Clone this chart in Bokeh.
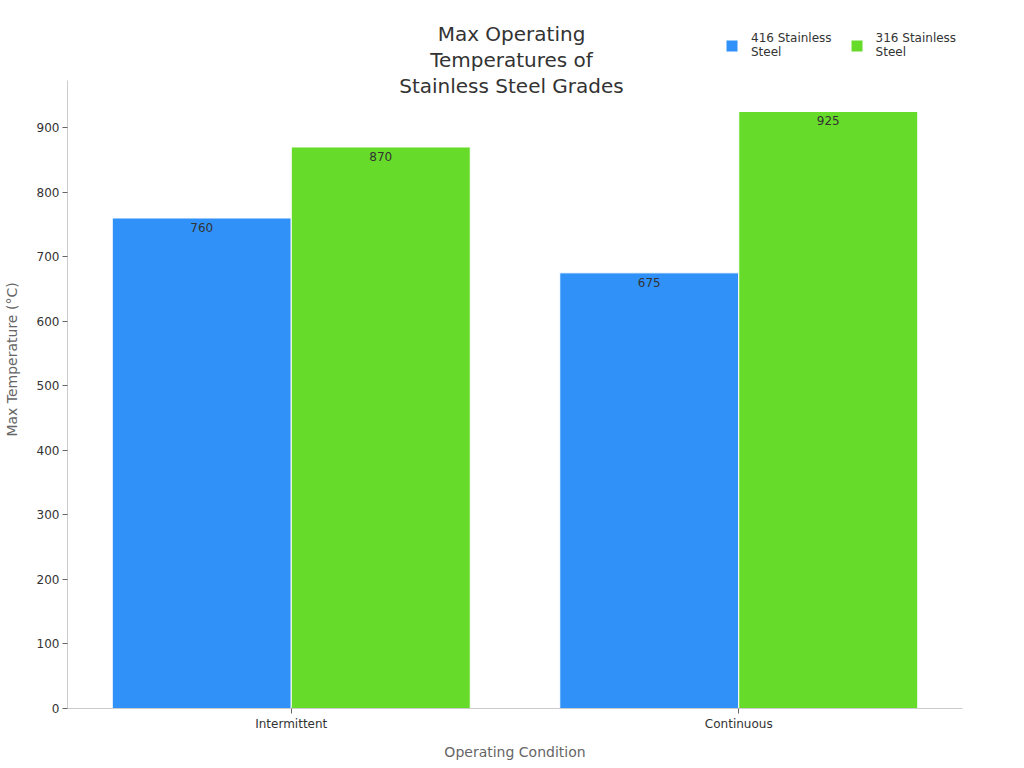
from bokeh.plotting import figure
from bokeh.models import (ColumnDataSource, FactorRange, Range1d, LabelSet, Label,
                          Legend, LegendItem, FixedTicker)
from bokeh.core.properties import value
from bokeh.transform import dodge
from bokeh.embed import file_html
from bokeh.resources import INLINE

conditions = ["Intermittent", "Continuous"]
steel_416 = [760, 675]
steel_316 = [870, 925]
series_names = ["416 Stainless\nSteel", "316 Stainless\nSteel"]
colors = ["#3092F8", "#67DB2A"]
title_lines = ["Max Operating", "Temperatures of", "Stainless Steel Grades"]

FONT = "DejaVu Sans"
Y_MAX = 973  # where the y axis line stops
FRAME_H = 698  # frame runs up to the top so the title and legend are not clipped

source = ColumnDataSource(dict(cond=conditions, s416=steel_416, s316=steel_316,
                               l416=[str(v) for v in steel_416],
                               l316=[str(v) for v in steel_316]))

p = figure(x_range=FactorRange(factors=conditions, range_padding=0),
           y_range=Range1d(0, Y_MAX * FRAME_H / 628),
           frame_width=895, frame_height=FRAME_H, output_backend="svg", toolbar_location=None,
           min_border_left=60, min_border_right=40, min_border_top=10, min_border_bottom=50)

r1 = p.vbar(x=dodge("cond", -0.2, range=p.x_range), top="s416", width=0.4, source=source,
            fill_color=colors[0], line_color="white", line_width=1)
r2 = p.vbar(x=dodge("cond", 0.2, range=p.x_range), top="s316", width=0.4, source=source,
            fill_color=colors[1], line_color="white", line_width=1)

for xoff, col, top in [(-0.2, "l416", "s416"), (0.2, "l316", "s316")]:
    p.add_layout(LabelSet(x=dodge("cond", xoff, range=p.x_range), y=top, text=col, source=source,
                          text_align="center", text_baseline="top", y_offset=-5,
                          text_font=value(FONT), text_font_size="12px", text_color="#333333"))

for i, line in enumerate(title_lines):
    p.add_layout(Label(x=444, y=675 - i * 26, x_units="screen", y_units="screen",
                       text=line, text_align="center", text_baseline="middle",
                       text_font=FONT, text_font_size="20px", text_color="#333333"))

legend = Legend(items=[LegendItem(label=series_names[0], renderers=[r1]),
                       LegendItem(label=series_names[1], renderers=[r2])],
                orientation="horizontal", location=(657, 649),
                label_text_font=FONT, label_text_font_size="12px", label_text_color="#333333",
                label_height=14, glyph_width=15, glyph_height=15, spacing=17,
                label_standoff=12, background_fill_alpha=0, border_line_alpha=0, padding=0,
                margin=0, label_text_line_height=1.25)
p.add_layout(legend, "center")

p.xgrid.visible = False
p.ygrid.visible = False
p.outline_line_color = None

p.yaxis.ticker = FixedTicker(ticks=list(range(0, 1000, 100)))
p.yaxis.bounds = (0, Y_MAX)
p.yaxis.axis_label = "Max Temperature (°C)"
p.xaxis.axis_label = "Operating Condition"
for ax in (p.xaxis, p.yaxis):
    ax.axis_line_color = "#cccccc"
    ax.major_tick_line_color = "#666666"
    ax.minor_tick_line_color = None
    ax.major_tick_in = 0
    ax.major_tick_out = 5
    ax.major_label_standoff = 3
    ax.major_label_text_font = FONT
    ax.major_label_text_font_size = "12px"
    ax.major_label_text_color = "#333333"
    ax.axis_label_text_font = FONT
    ax.axis_label_text_font_size = "14px"
    ax.axis_label_text_font_style = "normal"
    ax.axis_label_text_color = "#666666"
p.xaxis.axis_label_standoff = 10
p.yaxis.axis_label_standoff = 14

open("out.html", "w").write(file_html(p, INLINE))
